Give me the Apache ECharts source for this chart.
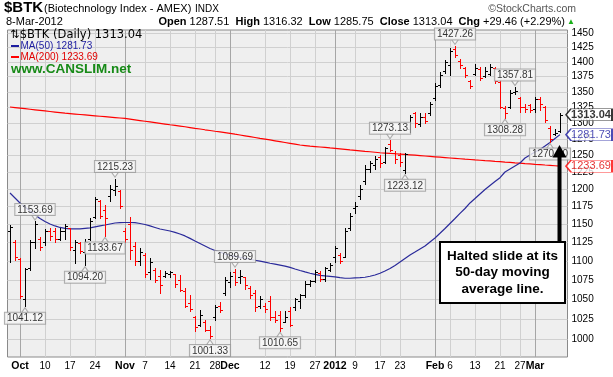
<!DOCTYPE html>
<html><head><meta charset="utf-8">
<script src="https://cdn.jsdelivr.net/npm/echarts@6/dist/echarts.min.js"></script>
<style>html,body{margin:0;padding:0;background:#fff}#c{width:613px;height:377px}</style>
</head><body><div id="c"></div>
<script>
const dates = [
'2011-09-29','2011-09-30',
'2011-10-03','2011-10-04','2011-10-05','2011-10-06','2011-10-07',
'2011-10-10','2011-10-11','2011-10-12','2011-10-13','2011-10-14',
'2011-10-17','2011-10-18','2011-10-19','2011-10-20','2011-10-21',
'2011-10-24','2011-10-25','2011-10-26','2011-10-27','2011-10-28',
'2011-10-31','2011-11-01','2011-11-02','2011-11-03','2011-11-04',
'2011-11-07','2011-11-08','2011-11-09','2011-11-10','2011-11-11',
'2011-11-14','2011-11-15','2011-11-16','2011-11-17','2011-11-18',
'2011-11-21','2011-11-22','2011-11-23','2011-11-25',
'2011-11-28','2011-11-29','2011-11-30','2011-12-01','2011-12-02',
'2011-12-05','2011-12-06','2011-12-07','2011-12-08','2011-12-09',
'2011-12-12','2011-12-13','2011-12-14','2011-12-15','2011-12-16',
'2011-12-19','2011-12-20','2011-12-21','2011-12-22','2011-12-23',
'2011-12-27','2011-12-28','2011-12-29','2011-12-30',
'2012-01-03','2012-01-04','2012-01-05','2012-01-06',
'2012-01-09','2012-01-10','2012-01-11','2012-01-12','2012-01-13',
'2012-01-17','2012-01-18','2012-01-19','2012-01-20',
'2012-01-23','2012-01-24','2012-01-25','2012-01-26','2012-01-27',
'2012-01-30','2012-01-31','2012-02-01','2012-02-02','2012-02-03',
'2012-02-06','2012-02-07','2012-02-08','2012-02-09','2012-02-10',
'2012-02-13','2012-02-14','2012-02-15','2012-02-16','2012-02-17',
'2012-02-21','2012-02-22','2012-02-23','2012-02-24',
'2012-02-27','2012-02-28','2012-02-29','2012-03-01','2012-03-02',
'2012-03-05','2012-03-06','2012-03-07','2012-03-08'];

const opens = [1140,1125,1102,1050,1090,1125,1130,1125,1140,1140,1130,1140,1145,1115,1124,1112,1130,1160,1183,1170,1190,1198,1197,
1140,1150,1120,1100,1108,1085,1088,1080,1080,1082,1082,1075,1060,1045,1027,1018,1022,1012,1028,1042,1058,
1072,1085,1078,1078,1065,1058,1042,1042,1048,1028,1030,1022,1035,1040,1048,1056,1070,1074,1084,1076,1088,
1105,1108,1105,1145,1173,1190,1212,1230,1235,1248,1240,1268,1254,1250,1228,1290,1315,1298,1310,1315,
1340,1362,1385,1395,1422,1402,1390,1368,1380,1388,1376,1380,1390,1366,1324,1325,1350,1340,1325,1328,
1322,1338,1325,1292,1282,1287.51];
const highs = [1149,1128,1104,1091,1128,1153.69,1132,1143,1145,1145,1145,1150,1145,1128,1126,1130,1159,1189,1184,1177,1206,1215.23,1199,
1145,1160,1125,1117,1111,1104,1090,1088,1086,1086,1083,1081,1064,1056,1029,1036,1024,1017,1043,1046,1078,
1085,1089.69,1088,1079,1067,1062,1054,1045,1054,1035,1035,1035,1040,1052,1057,1074,1075,1088,1086,1092,1097,
1120,1110,1144,1165,1181,1206,1236,1241,1249,1251,1263,1273.13,1256,1254,1254,1313,1318,1315,1316,1334,
1364,1383,1403,1424,1427.26,1405,1391,1369,1396,1391,1391,1396,1391,1369,1327,1353,1357.81,1341,1331,1331,
1341,1341,1327,1296,1291,1316.32];
const lows = [1099,1101,1052,1041.12,1088,1117,1115,1121,1128,1126,1128,1130,1115,1097,1111,1094.20,1128,1159,1159,1133.67,1183,1192,1173,
1125,1102,1095,1094,1078,1076,1072,1058,1078,1079,1066,1060,1040,1035,1010,1016,1010,1001.33,1024,1034,1055,
1066,1068,1071,1063,1052,1035,1039,1034,1024,1021,1010.65,1021,1016,1036,1039,1053,1067,1072,1073,1073,1086,
1099,1097,1105,1142,1166,1186,1208,1225,1230,1233,1238,1256,1238,1234,1223.12,1286,1294,1296,1300,1313,
1336,1358,1381,1377,1409,1390,1374,1356,1377,1369,1374,1377,1364,1323,1308.28,1323,1346,1318,1318,1318,
1318,1320,1301,1270.40,1281,1285.75];
const closes = [1146,1105,1054,1089,1125,1150,1118,1140,1133,1130,1140,1147,1118,1125,1113,1125,1155,1186,1162,1158,1200,1205,1175,
1130,1115,1100,1112,1082,1098,1075,1068,1084,1085,1070,1062,1042,1038,1015,1030,1012,1004,1040,1036,1075,
1080,1072,1080,1068,1055,1040,1050,1038,1028,1024,1014,1028,1018,1050,1055,1070,1074,1085,1076,1090,1095,
1117,1100,1140,1162,1175,1200,1230,1238,1245,1238,1261,1258,1245,1240,1252,1310,1300,1310,1303,1330,
1360,1378,1400,1418,1412,1395,1378,1360,1390,1372,1385,1392,1368,1326,1315,1348,1352,1325,1322,1320,
1338,1330,1305,1275,1283.58,1313.04];

const ma50 = [1194.2,1187.0,1179.9,1174.2,1168.5,1162.9,1157.9,1153.7,1150.2,1147.5,1145.4,1144.0,1143.3,1143.3,1143.3,1144.0,
1144.7,1146.1,1147.5,1148.8,1150.2,1151.6,1152.0,1152.3,1152.3,1152.0,1150.9,1149.5,1147.5,1145.4,1143.3,1141.9,
1140.5,1138.5,1136.4,1133.7,1130.3,1126.8,1123.4,1120.0,1116.6,1113.9,1111.9,1109.2,1107.2,1105.9,1104.5,1103.4,
1102.1,1100.8,1099.5,1098.2,1096.8,1095.5,1094.2,1092.9,1091.3,1089.2,1087.2,1085.3,1083.6,1082.0,1080.7,1080.0,
1079.4,1078.7,1077.8,1077.0,1077.0,1077.4,1077.8,1078.3,1079.6,1081.3,1083.6,1086.6,1089.9,1093.9,1098.5,1103.2,
1107.9,1111.9,1116.0,1120.0,1125.5,1130.9,1137.4,1144.0,1150.9,1157.9,1165.0,1172.0,1179.9,1186.2,1192.8,1199.3,
1205.2,1211.0,1216.6,1225.0,1229.5,1234.0,1238.4,1246.0,1250.5,1255.0,1258.9,1264.2,1269.6,1275.7,1281.73];

const ma200 = [1325.4,1324.5,1323.6,1322.7,1321.8,1320.9,1320.0,1319.1,1318.2,1317.3,1316.4,1315.5,1314.8,1314.1,1313.4,1312.7,
1312.0,1311.3,1310.6,1309.9,1309.2,1308.5,1307.8,1307.1,1306.0,1304.9,1303.8,1302.7,1301.6,1300.5,1299.4,1298.3,
1297.2,1296.2,1295.1,1294.0,1292.8,1291.6,1290.5,1289.3,1288.2,1287.0,1285.9,1284.8,1283.7,1282.4,1281.2,1279.9,
1278.6,1277.3,1276.0,1274.8,1273.5,1272.2,1270.9,1269.6,1268.3,1267.0,1265.7,1264.9,1264.1,1263.4,1262.7,1262.0,
1261.2,1260.5,1259.8,1259.1,1258.3,1257.6,1256.9,1256.1,1255.4,1254.7,1253.9,1253.4,1252.9,1252.4,1251.9,1251.4,
1250.8,1250.2,1249.6,1249.0,1248.4,1247.8,1247.2,1246.6,1246.0,1245.4,1244.8,1244.2,1243.7,1243.1,1242.6,1242.0,
1241.5,1240.9,1240.4,1239.8,1239.3,1238.7,1238.2,1237.6,1237.1,1236.5,1236.0,1235.4,1234.9,1234.3,1233.69];

const yTicks = [1000,1025,1050,1075,1100,1125,1150,1175,1200,1225,1250,1275,1300,1325,1350,1375,1400,1425,1450];
const tickDates = ['2011-10-03','2011-10-10','2011-10-17','2011-10-24','2011-11-01','2011-11-07','2011-11-14','2011-11-21','2011-11-28',
'2011-12-01','2011-12-12','2011-12-19','2011-12-27','2012-01-03','2012-01-09','2012-01-17','2012-01-23','2012-02-01','2012-02-06',
'2012-02-13','2012-02-21','2012-02-27','2012-03-01'];
const tickTexts = ['Oct','10','17','24','Nov','7','14','21','28','Dec','12','19','27','2012','9','17','23','Feb','6','13','21','27','Mar'];
const monthTexts = ['Oct','Nov','Dec','2012','Feb','Mar'];
// callouts: [bar index, 'H' (high) or 'L' (low)]
const callouts = [[3,'L'],[5,'H'],[15,'L'],[19,'L'],[21,'H'],[40,'L'],[45,'H'],[54,'L'],[76,'H'],[79,'L'],[89,'H'],[99,'L'],[101,'H'],[108,'L']];
const noteLines = ['Halted slide at its','50-day moving','average line.'];

const FONT = '"Liberation Sans", Arial, sans-serif';
const n = dates.length;
const last = n - 1;
const tickIdx = tickDates.map(d => dates.indexOf(d));
const labelMap = {};
tickIdx.forEach((ix, k) => { labelMap[ix] = tickTexts[k]; });
const weekIdx = tickIdx.filter((ix, k) => monthTexts.indexOf(tickTexts[k]) < 0);
const monthIdx = tickIdx.filter((ix, k) => monthTexts.indexOf(tickTexts[k]) >= 0);

const ohlc = dates.map((d, i) => [i, opens[i], highs[i], lows[i], closes[i],
  (i > 0 ? closes[i] < closes[i - 1] : closes[i] < opens[i]) ? 1 : 0]);

function renderOHLC(params, api) {
  const i = api.value(0);
  const pO = api.coord([i, api.value(1)]);
  const pH = api.coord([i, api.value(2)]);
  const pL = api.coord([i, api.value(3)]);
  const pC = api.coord([i, api.value(4)]);
  const col = api.value(5) ? '#ff0000' : '#000000';
  const x = Math.round(pH[0]) + 0.5;
  const st = { stroke: col, lineWidth: 1 };
  const yo = Math.round(pO[1]) + 0.5, yc = Math.round(pC[1]) + 0.5;
  return { type: 'group', children: [
    { type: 'line', shape: { x1: x, y1: Math.round(pH[1]), x2: x, y2: Math.round(pL[1]) + 1 }, style: st },
    { type: 'line', shape: { x1: x - 2.5, y1: yo, x2: x, y2: yo }, style: st },
    { type: 'line', shape: { x1: x, y1: yc, x2: x + 2.5, y2: yc }, style: st }
  ]};
}

const calloutData = callouts.map(([i, t]) => ({
  value: [i, t === 'H' ? highs[i] : lows[i]],
  label: { position: t === 'H' ? 'top' : 'bottom' }
}));
const pointerData = callouts.map(([i, t]) => ({
  value: [i, t === 'H' ? highs[i] : lows[i]],
  symbolRotate: t === 'H' ? 180 : 0,
  symbolOffset: [0, t === 'H' ? -4 : 4]
}));

const tagPath = 'path://M0,6 L5,0 L46,0 L46,12 L5,12 Z';
const tagData = [
  { value: [last, closes[last]], itemStyle: { borderColor: '#000' }, label: { color: '#000', fontWeight: 'bold' } },
  { value: [last, ma50[last]], itemStyle: { borderColor: '#1c1ca0' }, label: { color: '#1c1ca0' } },
  { value: [last, ma200[last]], itemStyle: { borderColor: '#ff0000' }, label: { color: '#e00000' } }
];

const chg = closes[last] - closes[last - 1];
const chgPct = Math.floor(chg / closes[last - 1] * 10000) / 100;

const chart = echarts.init(document.getElementById('c'));
chart.setOption({
  animation: false,
  backgroundColor: '#ffffff',
  grid: { left: 7.5, top: 30, width: 560, height: 327, show: true, backgroundColor: '#efefef', borderColor: '#8a8a8a', borderWidth: 1 },
  xAxis: [{
    type: 'value', min: -0.5, max: n + 0.5,
    axisLine: { show: false }, axisTick: { show: false, customValues: weekIdx },
    axisLabel: {
      customValues: tickIdx, margin: 4, color: '#000', hideOverlap: false, showMinLabel: true, showMaxLabel: true,
      formatter: v => {
        const t = labelMap[v];
        return monthTexts.indexOf(t) >= 0 ? '{m|' + t + '}' : '{d|' + t + '}';
      },
      rich: {
        m: { fontFamily: FONT, fontSize: 10.5, fontWeight: 'bold', color: '#000' },
        d: { fontFamily: FONT, fontSize: 10, color: '#000' }
      }
    },
    splitLine: { show: true, lineStyle: { color: '#d0d0d0', width: 1 } }
  }, {
    type: 'value', min: -0.5, max: n + 0.5, position: 'bottom',
    axisLine: { show: false }, axisTick: { show: false, customValues: monthIdx },
    axisLabel: { show: false },
    splitLine: { show: true, lineStyle: { color: '#a6a6a6', width: 1 } }
  }],
  yAxis: {
    type: 'log', logBase: 10, min: 979, max: 1455, position: 'right',
    axisLine: { show: false }, axisTick: { show: false, customValues: yTicks },
    axisLabel: { customValues: yTicks, fontFamily: FONT, fontSize: 10, color: '#000', margin: 4,
      formatter: v => String(Math.round(v)) },
    splitLine: { show: true, lineStyle: { color: '#d0d0d0', width: 1 } }
  },
  series: [
    { name: 'MA200', type: 'line', data: ma200.map((v, i) => [i, v]), showSymbol: false, symbol: 'none',
      lineStyle: { color: '#ff0000', width: 1.2 }, z: 3 },
    { name: 'MA50', type: 'line', data: ma50.map((v, i) => [i, v]), showSymbol: false, symbol: 'none',
      lineStyle: { color: '#2a2a9a', width: 1.2 }, z: 3 },
    { name: 'BTK', type: 'custom', renderItem: renderOHLC, data: ohlc, encode: { x: 0, y: [1, 2, 3, 4] }, z: 4 },
    { name: 'ptr', type: 'scatter', data: pointerData, symbol: 'triangle', symbolSize: [7, 5], clip: false,
      itemStyle: { color: '#f8f8f8', borderColor: '#9a9a9a', borderWidth: 1 }, z: 5, silent: true },
    { name: 'callouts', type: 'scatter', data: calloutData, symbolSize: 1, clip: false,
      itemStyle: { color: 'rgba(0,0,0,0)' }, z: 6, silent: true,
      label: { show: true, distance: 6, formatter: p => p.value[1].toFixed(2), fontFamily: FONT, fontSize: 10,
        color: '#000', backgroundColor: '#f8f8f8', borderColor: '#9a9a9a', borderWidth: 1, padding: [1, 2, 0, 2], lineHeight: 10 } },
    { name: 'tags', type: 'scatter', data: tagData, symbol: tagPath, symbolKeepAspect: false, symbolSize: [46, 12],
      symbolOffset: [29, 0], clip: false, z: 7, silent: true,
      itemStyle: { color: '#ffffff', borderWidth: 1 },
      label: { show: true, position: 'inside', offset: [2, 0], formatter: p => p.value[1].toFixed(2), fontFamily: FONT, fontSize: 11 } }
  ],
  graphic: [
    { type: 'text', z: 100, style: { x: 4, y: 8, text: '$BTK', fontFamily: FONT, fontSize: 15, fontWeight: 'bold', fill: '#000', verticalAlign: 'middle' } },
    { type: 'text', z: 100, style: { x: 44, y: 9, text: '(Biotechnology Index - AMEX)', fontFamily: FONT, fontSize: 11, fill: '#000', verticalAlign: 'middle' } },
    { type: 'text', z: 100, style: { x: 195, y: 9, text: 'INDX', fontFamily: FONT, fontSize: 10, fill: '#000', verticalAlign: 'middle' } },
    { type: 'text', z: 100, style: { x: 576, y: 9, text: '\u00A9StockCharts.com', fontFamily: FONT, fontSize: 10.5, fill: '#555', align: 'right', verticalAlign: 'middle' } },
    { type: 'text', z: 100, style: { x: 6, y: 22, text: '8-Mar-2012', fontFamily: FONT, fontSize: 11, fill: '#000', verticalAlign: 'middle' } },
    { type: 'text', z: 100, style: { x: 565, y: 22, align: 'right', verticalAlign: 'middle', fontFamily: FONT, fontSize: 11, fill: '#000',
      text: '{b|Open} ' + opens[last].toFixed(2) + '  {b|High} ' + highs[last].toFixed(2) + '  {b|Low} ' + lows[last].toFixed(2) +
        '  {b|Close} ' + closes[last].toFixed(2) + '  {b|Chg} +' + chg.toFixed(2) + ' (+' + chgPct.toFixed(2) + '%)',
      rich: { b: { fontFamily: FONT, fontSize: 11, fontWeight: 'bold', fill: '#000' } } } },
    { type: 'text', z: 100, style: { x: 571, y: 22, text: '\u25B2', fontFamily: FONT, fontSize: 8, fill: '#18b018', align: 'center', verticalAlign: 'middle' } },
    { type: 'text', z: 100, style: { x: 10, y: 35, text: '\u21C5$BTK (Daily) ' + closes[last].toFixed(2), fontFamily: '"DejaVu Sans", sans-serif', fontSize: 11.5, fill: '#000', verticalAlign: 'middle' } },
    { type: 'line', z: 100, shape: { x1: 11, y1: 46, x2: 19, y2: 46 }, style: { stroke: '#1c1ca0', lineWidth: 2 } },
    { type: 'text', z: 100, style: { x: 20.5, y: 46, text: 'MA(50) ' + ma50[last].toFixed(2), fontFamily: FONT, fontSize: 10, fill: '#1c1ca0', verticalAlign: 'middle' } },
    { type: 'line', z: 100, shape: { x1: 11, y1: 57, x2: 19, y2: 57 }, style: { stroke: '#ff0000', lineWidth: 2 } },
    { type: 'text', z: 100, style: { x: 20.5, y: 57, text: 'MA(200) ' + ma200[last].toFixed(2), fontFamily: FONT, fontSize: 10, fill: '#e00000', verticalAlign: 'middle' } },
    { type: 'text', z: 100, style: { x: 11, y: 69, text: 'www.CANSLIM.net', fontFamily: FONT, fontSize: 13.5, fontWeight: 'bold', fill: '#178a17', verticalAlign: 'middle' } },
    { type: 'rect', z: 100, shape: { x: 440, y: 242, width: 125, height: 61 }, style: { fill: '#ffffff', stroke: '#000', lineWidth: 2 } },
    { type: 'text', z: 101, style: { x: 502.5, y: 256, text: noteLines[0], fontFamily: FONT, fontSize: 13.5, fontWeight: 'bold', fill: '#000', align: 'center', verticalAlign: 'middle' } },
    { type: 'text', z: 101, style: { x: 502.5, y: 272.5, text: noteLines[1], fontFamily: FONT, fontSize: 13.5, fontWeight: 'bold', fill: '#000', align: 'center', verticalAlign: 'middle' } },
    { type: 'text', z: 101, style: { x: 502.5, y: 289, text: noteLines[2], fontFamily: FONT, fontSize: 13.5, fontWeight: 'bold', fill: '#000', align: 'center', verticalAlign: 'middle' } },
    { type: 'rect', z: 100, shape: { x: 557.5, y: 155, width: 4, height: 87 }, style: { fill: '#000' } },
    { type: 'polygon', z: 100, shape: { points: [[559.5, 145], [552.5, 157.5], [566.5, 157.5]] }, style: { fill: '#000' } }
  ]
});
</script>
</body></html>
